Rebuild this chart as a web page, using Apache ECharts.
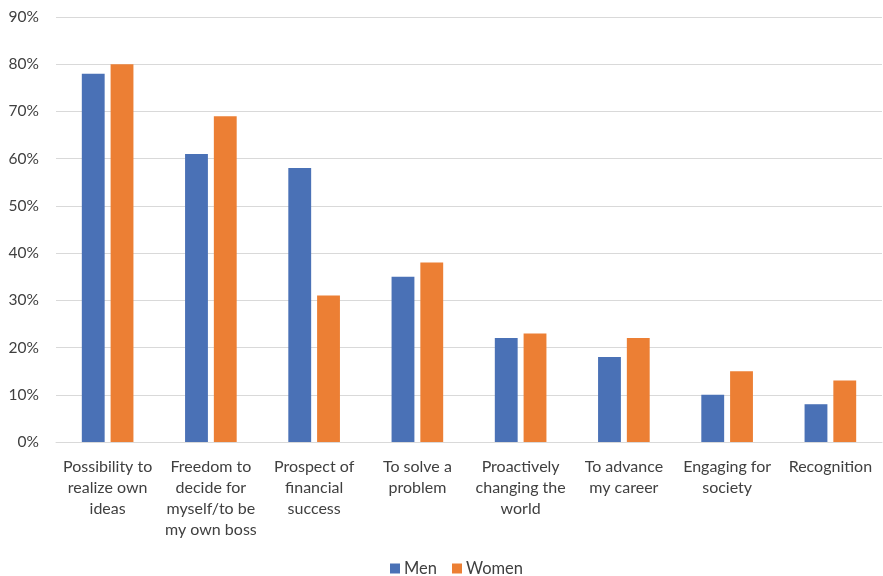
<!DOCTYPE html>
<html><head><meta charset="utf-8">
<script src="https://cdn.jsdelivr.net/npm/echarts@6/dist/echarts.min.js"></script>
<style>html,body{margin:0;padding:0;background:#fff}#c{width:883px;height:576px}</style>
</head><body><div id="c"></div>
<script>
const categories = ["Possibility to\nrealize own\nideas","Freedom to\ndecide for\nmyself/to be\nmy own boss","Prospect of\nfinancial\nsuccess","To solve a\nproblem","Proactively\nchanging the\nworld","To advance\nmy career","Engaging for\nsociety","Recognition"];
const men = [78,61,58,35,22,18,10,8];
const women = [80,69,31,38,23,22,15,13];
const seriesNames = ["Men","Women"];
const font = "Lato, 'Open Sans', sans-serif";
const chart = echarts.init(document.getElementById('c'), null, {renderer:'canvas'});
chart.setOption({
  animation:false,
  grid:{left:56,right:1,top:17,bottom:134,containLabel:false},
  legend:{top:560,left:385,padding:[0,5],itemWidth:10,itemHeight:10,itemGap:15,icon:'rect',
    textStyle:{fontFamily:font,fontSize:16.5,color:'#404040',padding:[0,0,0,-1]},data:seriesNames},
  xAxis:{type:'category',data:categories,
    axisLine:{lineStyle:{color:'#d9d9d9',width:1}},axisTick:{show:false},
    axisLabel:{fontFamily:font,fontSize:16,color:'#404040',lineHeight:21,margin:14,interval:0}},
  yAxis:{type:'value',min:0,max:90,interval:10,
    axisLabel:{formatter:'{value}%',fontFamily:font,fontSize:15.5,color:'#404040',margin:17},
    splitLine:{lineStyle:{color:'#d9d9d9',width:1}},axisLine:{show:false},axisTick:{show:false}},
  series:[
    {name:seriesNames[0],type:'bar',data:men,barGap:'26%',barCategoryGap:'50%',itemStyle:{color:'#4a71b6'}},
    {name:seriesNames[1],type:'bar',data:women,itemStyle:{color:'#ec7f34'}}
  ]
});
</script></body></html>
